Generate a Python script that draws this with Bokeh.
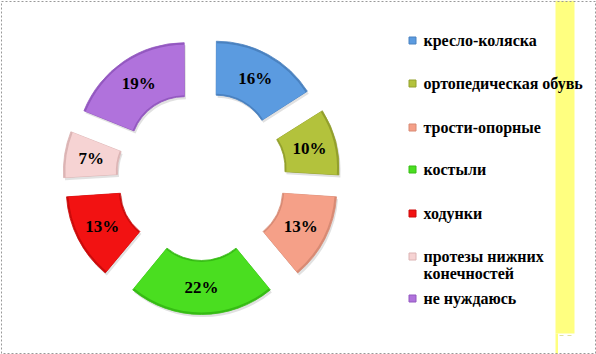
import numpy as np
from bokeh.plotting import figure
from bokeh.models import Range1d, ColumnDataSource
from bokeh.core.properties import value
from bokeh.embed import file_html
from bokeh.resources import INLINE

# ---- data ----
categories = ["кресло-коляска", "ортопедическая обувь", "трости-опорные", "костыли",
              "ходунки", "протезы нижних\nконечностей", "не нуждаюсь"]
values = [16, 10, 13, 22, 13, 7, 19]
colors = ["#5b9be0", "#b3c23c", "#f5a088", "#4ade20", "#f21212", "#f6d3d3", "#b072dc"]
edge_colors = ["#4a82c0", "#93a02c", "#d88a74", "#36bc14", "#cc0a0a", "#dcb4b4", "#9358c0"]

# ---- layout (pixel based, y measured from top) ----
W, H = 596, 354
cx, cy_top = 201, 175.5
r_in, r_out = 54.5, 108.5
explode = 30
FONT = "Liberation Serif"

def Y(y_top):
    return H - y_top

vals = np.array(values, dtype=float)
frac = vals / vals.sum()
cum = np.concatenate([[0.0], np.cumsum(frac)])
t1 = cum[:-1] * 2 * np.pi
t2 = cum[1:] * 2 * np.pi
mid = (t1 + t2) / 2
gap = 0.004
xs = cx + explode * np.sin(mid)
ys = Y(cy_top) + explode * np.cos(mid)
src = ColumnDataSource(dict(
    x=xs, y=ys, sx=xs + 1.5, sy=ys - 2.5,
    start=np.pi / 2 - t2 + gap, end=np.pi / 2 - t1 - gap,
    color=colors, edge=edge_colors,
    lx=xs + (r_in + r_out) / 2 * np.sin(mid),
    ly=ys + (r_in + r_out) / 2 * np.cos(mid),
    label=[f"{v:g}%" for v in values],
))

p = figure(width=W, height=H, x_range=Range1d(0, W), y_range=Range1d(0, H),
           output_backend="svg", toolbar_location=None, min_border=0)
p.axis.visible = False
p.grid.visible = False
p.outline_line_color = None
p.background_fill_color = "white"
p.border_fill_color = "white"

# yellow band on right
p.quad(left=555, right=574, bottom=Y(333), top=Y(0), fill_color="#ffff80", line_color=None)
p.quad(left=555, right=557.5, bottom=Y(354), top=Y(333), fill_color="#ffff80", line_color=None)
p.line(x=[559, 573], y=[Y(335), Y(335)], line_color="#e0e0a0", line_dash="4 4")

# frame
p.line(x=[1, W - 1, W - 1, 1, 1], y=[Y(1), Y(1), Y(H - 1), Y(H - 1), Y(1)],
       line_color="#999999", line_dash="2 2", line_width=1)

# soft shadow
p.annular_wedge(x="sx", y="sy", inner_radius=r_in, outer_radius=r_out,
                start_angle="start", end_angle="end", source=src,
                fill_color="#888888", fill_alpha=0.25, line_color=None)
# donut segments (darker rim + main fill to suggest bevel)
p.annular_wedge(x="x", y="y", inner_radius=r_in, outer_radius=r_out,
                start_angle="start", end_angle="end", source=src,
                fill_color="edge", line_color="edge", line_width=0.8)
p.annular_wedge(x="x", y="y", inner_radius=r_in + 1.5, outer_radius=r_out - 2,
                start_angle="start", end_angle="end", source=src,
                fill_color="color", line_color=None)
p.text(x="lx", y="ly", text="label", source=src, text_font=value(FONT),
       text_font_style="bold", text_font_size="17px", text_color="black",
       text_align="center", text_baseline="middle")

# legend
row_top = [40, 83, 127, 169, 213, 256, 298]
leg = ColumnDataSource(dict(
    mx=[412] * len(categories), my=[Y(y) for y in row_top],
    tx=[423] * len(categories), ty=[Y(y - 9) for y in row_top],
    text=categories, color=colors, edge=edge_colors,
))
p.scatter(x="mx", y="my", marker="square", size=7, source=leg,
          fill_color="color", line_color="edge", line_width=1)
p.text(x="tx", y="ty", text="text", source=leg, text_font=value(FONT),
       text_font_style="bold", text_font_size="16px", text_color="black",
       text_align="left", text_baseline="top", text_line_height=1.05)

open("out.html", "w").write(file_html(p, INLINE))
